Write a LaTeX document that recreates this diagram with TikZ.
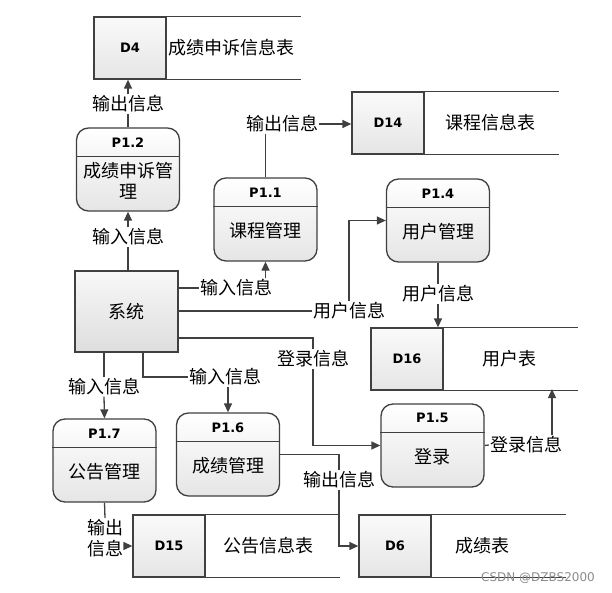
\documentclass[tikz,border=0pt]{standalone}
\usepackage{fontspec}
\setmainfont{Noto Sans CJK SC}
\newfontfamily\idfont{DejaVu Sans}
\usetikzlibrary{arrows.meta,calc}

\tikzset{
  flow/.style={draw=black!75, line width=1.3pt},
  arr/.style={flow, -{Triangle[length=9pt,width=8pt]}},
  proc/.style={flow, rounded corners=12pt, top color=white, bottom color=black!10,
    minimum width=103pt, minimum height=83pt, inner sep=0pt},
  pid/.style={font=\idfont\bfseries\fontsize{13}{15}\selectfont},
  storeid/.style={flow, top color=black!2, bottom color=black!10, minimum width=72pt,
    minimum height=62pt, inner sep=0pt, font=\idfont\bfseries\fontsize{13}{15}\selectfont},
  sysbox/.style={flow, top color=black!3, bottom color=black!13, minimum width=103pt,
    minimum height=81pt, font=\fontsize{18}{21}\selectfont},
  lbl/.style={inner sep=1pt, font=\fontsize{18}{21}\selectfont, align=center},
}

% process: name, centre x, top y, id, text
\newcommand{\procbox}[5]{%
  \node[proc] (#1) at (#2,#3+41.5) {};
  \draw[flow] ($(#1.north west)+(0,29)$) -- ($(#1.north east)+(0,29)$);
  \node[pid] at ($(#1.north)+(0,15)$) {#4};
  \node[lbl] at ($(#1.center)+(0,11.5)$) {#5};
}
% data store: name, left x, top y, id, text, text x
\newcommand{\datastore}[6]{%
  \node[storeid] (#1) at (#2+36,#3+31) {#4};
  \draw[flow] (#1.north east) -- ++(134,0);
  \draw[flow] (#1.south east) -- ++(134,0);
  \node[lbl] (#1t) at (#6,#3+31) {#5};
}

\begin{document}
\begin{tikzpicture}[x=1pt,y=-1pt]
\useasboundingbox (0,0) rectangle (612,593);

% stores
\datastore{d4}{94}{17}{D4}{成绩申诉信息表}{231}
\datastore{d14}{352}{92}{D14}{课程信息表}{490}
\datastore{d16}{371}{328}{D16}{用户表}{509}
\datastore{d15}{133}{515}{D15}{公告信息表}{268}
\datastore{d6}{359}{515}{D6}{成绩表}{482}

% processes
\procbox{p12}{128}{128}{P1.2}{成绩申诉管\\理}
\procbox{p11}{265.5}{178}{P1.1}{课程管理}
\procbox{p14}{438}{179}{P1.4}{用户管理}
\procbox{p15}{432.5}{404}{P1.5}{登录}
\procbox{p17}{104.5}{419}{P1.7}{公告管理}
\procbox{p16}{228}{413}{P1.6}{成绩管理}

\node[sysbox] (sys) at (126.5,311.5) {系统};

% flow labels
\node[lbl] (o12) at (128,104) {输出信息};
\node[lbl] (i12) at (128,237) {输入信息};
\node[lbl] (o11) at (282,124) {输出信息};
\node[lbl] (i11) at (236,288) {输入信息};
\node[lbl] (u14) at (349,311) {用户信息};
\node[lbl] (u16) at (438,294) {用户信息};
\node[lbl] (l15) at (313,359) {登录信息};
\node[lbl] (l16) at (526,445) {登录信息};
\node[lbl] (i17) at (104,387) {输入信息};
\node[lbl] (i16) at (225,377) {输入信息};
\node[lbl] (o6) at (339,480) {输出信息};
\node[lbl] (o15) at (105,538) {输出\\信息};

\coordinate (sys3) at (178,338);
\coordinate (sys6) at (143,352);
\coordinate (d16r) at (552,389);

% flows
\draw[flow] (p12.north) -- (o12.south);
\draw[arr] (o12.north) -- (d4.south -| p12);
\draw[flow] (sys.north -| p12) -- (i12.south);
\draw[arr] (i12.north) -- (p12.south);
\draw[flow] (p11.north) -- (p11.north |- o11.south);
\draw[arr] (o11.east) -- (o11.east -| d14.west);
\draw[flow] (sys.east |- i11) -- (i11.west);
\draw[arr] (i11.north -| p11) -- (p11.south);
\draw[flow] (sys.east |- u14) -- (u14.west);
\draw[arr] (u14.north) |- (p14.west);
\draw[flow] (p14.south) -- (u16.north);
\draw[arr] (u16.south) -- (d16.north -| p14);
\draw[flow] (sys3) -| (l15.north);
\draw[arr] (l15.south) |- (p15.west);
\draw[flow] (p15.east) -- (l16.west);
\draw[arr] (l16.north -| d16r) -- (d16r);
\draw[flow] (sys.south -| i17) -- (i17.north);
\draw[arr] (i17.south) -- (p17.north);
\draw[flow] (sys6) |- (i16.west);
\draw[arr] (i16.south -| p16) -- (p16.north);
\draw[flow] (p16.east) -| (o6.north);
\draw[arr] (o6.south) |- (d6.west);
\draw[flow] (p17.south) -- (o15.north);
\draw[arr] (o15.east |- d15) -- (d15.west);

\node[text=black!45, font=\idfont\fontsize{12}{14}\selectfont] (mark) at (538,578) {CSDN @DZBS2000};
\end{tikzpicture}
\end{document}
